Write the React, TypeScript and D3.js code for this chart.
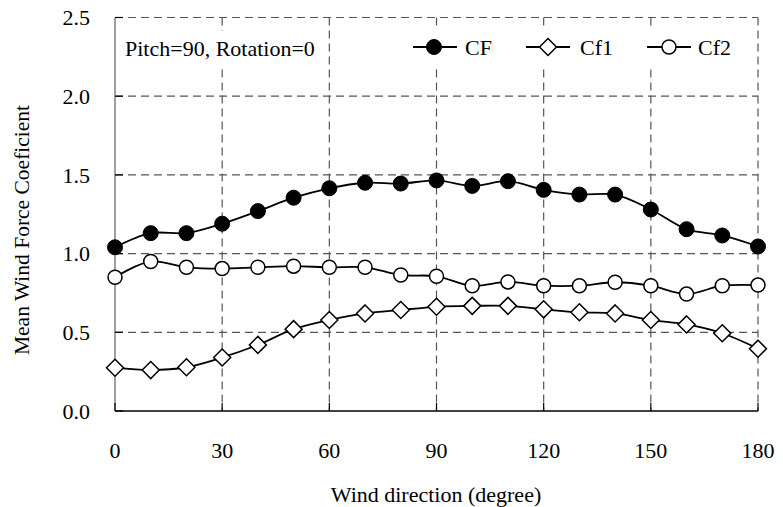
import * as d3 from "d3";
import React from "react";

const angles = [0, 10, 20, 30, 40, 50, 60, 70, 80, 90, 100, 110, 120, 130, 140, 150, 160, 170, 180];
const cf = [1.04, 1.13, 1.13, 1.19, 1.27, 1.355, 1.415, 1.45, 1.445, 1.465, 1.43, 1.46, 1.405, 1.375, 1.375, 1.28, 1.155, 1.115, 1.045];
const cf1 = [0.275, 0.26, 0.278, 0.34, 0.42, 0.52, 0.578, 0.62, 0.642, 0.662, 0.668, 0.668, 0.646, 0.627, 0.62, 0.578, 0.55, 0.494, 0.396];
const cf2 = [0.85, 0.95, 0.913, 0.905, 0.913, 0.92, 0.913, 0.913, 0.864, 0.856, 0.796, 0.82, 0.796, 0.796, 0.818, 0.796, 0.743, 0.796, 0.80];
const xTicks = [0, 30, 60, 90, 120, 150, 180];
const yTicks = [0, 0.5, 1.0, 1.5, 2.0, 2.5];

const font = "'Liberation Serif', 'Times New Roman', serif";

const App = () => {
  const left = 115, right = 758, top = 17.5, bottom = 411;

  const x = d3.scaleLinear().domain([0, 180]).range([left, right]);
  const y = d3.scaleLinear().domain([0, 2.5]).range([bottom, top]);

  const line = d3.line<number>()
    .x((d, i) => x(angles[i]))
    .y((d) => y(d))
    .curve(d3.curveCatmullRom.alpha(0.5));

  const diamond = (cx: number, cy: number, s = 8.5) =>
    `M${cx},${cy - s}L${cx + s},${cy}L${cx},${cy + s}L${cx - s},${cy}Z`;

  const legend = [
    { name: "CF", x0: 413, mx: 434, tx: 465, kind: "filled" },
    { name: "Cf1", x0: 526, mx: 548, tx: 580, kind: "diamond" },
    { name: "Cf2", x0: 647, mx: 669, tx: 698, kind: "open" },
  ];

  const marker = (kind: string, cx: number, cy: number, key?: any) => {
    if (kind === "filled") return <circle key={key} cx={cx} cy={cy} r={7.5} fill="#000" stroke="#000" strokeWidth={1} />;
    if (kind === "open") return <circle key={key} cx={cx} cy={cy} r={7} fill="#fff" stroke="#000" strokeWidth={1.5} />;
    return <path key={key} d={diamond(cx, cy)} fill="#fff" stroke="#000" strokeWidth={1.5} />;
  };

  return (
    <div style={{ position: "absolute", left: 0, top: 0 }}>
      <svg width={783} height={507} style={{ display: "block", background: "#fff" }}>
        {/* grid */}
        {yTicks.filter((t) => t > 0).map((t) => (
          <line key={"gy" + t} x1={left} x2={right} y1={y(t)} y2={y(t)} stroke="#555" strokeWidth={1.2} strokeDasharray="8,5" />
        ))}
        {xTicks.filter((t) => t > 0).map((t) => (
          <line key={"gx" + t} x1={x(t)} x2={x(t)} y1={top} y2={bottom} stroke="#555" strokeWidth={1.2} strokeDasharray="8,5" />
        ))}

        {/* axes */}
        <line x1={left} x2={left} y1={top} y2={bottom} stroke="#808080" strokeWidth={1.5} />
        {yTicks.map((t) => (
          <line key={"ty" + t} x1={left} x2={left + 8} y1={y(t)} y2={y(t)} stroke="#000" strokeWidth={1.2} />
        ))}
        <line x1={left} x2={right} y1={bottom} y2={bottom} stroke="#000" strokeWidth={1.5} />
        {xTicks.map((t) => (
          <line key={"tx" + t} x1={x(t)} x2={x(t)} y1={bottom} y2={bottom - 8} stroke="#000" strokeWidth={1.2} />
        ))}

        {/* tick labels */}
        {yTicks.map((t) => (
          <text key={"ly" + t} x={90} y={y(t)} dy="0.35em" textAnchor="end" fontFamily={font} fontSize={22}>
            {t.toFixed(1)}
          </text>
        ))}
        {xTicks.map((t) => (
          <text key={"lx" + t} x={x(t)} y={458} textAnchor="middle" fontFamily={font} fontSize={22}>
            {t}
          </text>
        ))}

        {/* axis titles */}
        <text x={436} y={502} textAnchor="middle" fontFamily={font} fontSize={22}>Wind direction (degree)</text>
        <text transform="translate(29,230) rotate(-90)" textAnchor="middle" fontFamily={font} fontSize={21.5}>
          Mean Wind Force Coeficient
        </text>

        {/* series */}
        <path d={line(cf2) || ""} fill="none" stroke="#000" strokeWidth={1.8} />
        <path d={line(cf1) || ""} fill="none" stroke="#000" strokeWidth={1.8} />
        <path d={line(cf) || ""} fill="none" stroke="#000" strokeWidth={1.8} />
        {cf2.map((v, i) => marker("open", x(angles[i]), y(v), "c2" + i))}
        {cf1.map((v, i) => marker("diamond", x(angles[i]), y(v), "c1" + i))}
        {cf.map((v, i) => marker("filled", x(angles[i]), y(v), "c" + i))}

        {/* annotation */}
        <rect x={left + 1} y={31} width={212} height={34} fill="#fff" />
        <text x={125} y={56} fontFamily={font} fontSize={22}>Pitch=90, Rotation=0</text>

        {/* legend */}
        <rect x={400} y={30} width={352} height={35} fill="#fff" />
        {legend.map((l) => (
          <g key={l.name}>
            <line x1={l.x0} x2={l.x0 + 44} y1={47} y2={47} stroke="#000" strokeWidth={1.8} />
            {marker(l.kind, l.mx, 47)}
            <text x={l.tx} y={55} fontFamily={font} fontSize={22}>{l.name}</text>
          </g>
        ))}
      </svg>
    </div>
  );
};

export default App;
